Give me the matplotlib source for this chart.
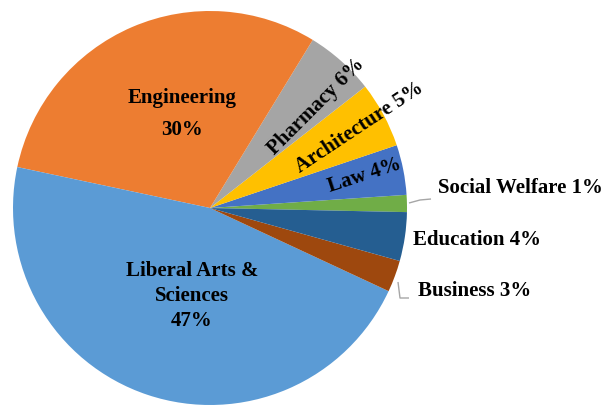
import matplotlib
matplotlib.use("Agg")
import matplotlib.pyplot as plt

# ---- data (counter-clockwise from the right) ----
categories = ["Social Welfare", "Law", "Architecture", "Pharmacy",
              "Engineering", "Liberal Arts &\nSciences", "Business", "Education"]
shares = [1.4, 4.1, 5.4, 5.7, 30.4, 46.4, 2.6, 4.0]
pct_labels = ["1%", "4%", "5%", "6%", "30%", "47%", "3%", "4%"]
colors = ["#70AD47", "#4472C4", "#FFC000", "#A5A5A5",
          "#ED7D31", "#5B9BD5", "#9E480E", "#255E91"]

W, H = 603, 405
fig = plt.figure(figsize=(W / 100, H / 100), dpi=100)
ax = fig.add_axes([0, 0, 1, 1])

def py(y):
    return H - y

cx, cy, R = 210, py(208), 197
ax.pie(shares, colors=colors, startangle=-1.2, counterclock=True,
       center=(cx, cy), radius=R, frame=True,
       wedgeprops=dict(linewidth=0))
ax.set_xlim(0, W)
ax.set_ylim(0, H)
ax.set_aspect("equal")
ax.axis("off")

font = dict(family="Liberation Serif", weight="bold", size=15, color="black")

# label layout: (x_px, y_px, rotation, ha, mode)
layout = {
    0: (438, 188, 0, "left", "line"),
    1: (365, 176, 18, "center", "inline"),
    2: (360, 128, 33.5, "center", "inline"),
    3: (316, 107, 45, "center", "inline"),
    4: (182, 114, 0, "center", "multi"),
    5: (192, 296, 0, "center", "multi"),
    6: (418, 291, 0, "left", "line"),
    7: (413, 240, 0, "left", "line"),
}
spacing = {4: 1.85, 5: 1.35}

for i, (name, pct) in enumerate(zip(categories, pct_labels)):
    x, y, rot, ha, mode = layout[i]
    if mode == "multi":
        txt = f"{name}\n{pct}"
        ax.text(x, py(y), txt, ha="center", va="center", multialignment="center",
                linespacing=spacing[i], **font)
    else:
        txt = f"{name} {pct}"
        ax.text(x, py(y), txt, ha=ha, va="center", rotation=rot,
                rotation_mode="anchor", **font)

# leader lines
line_kw = dict(color="#A6A6A6", lw=1, solid_capstyle="butt")
ax.plot([409, 420, 431], [py(203), py(200), py(199)], **line_kw)
ax.plot([398, 400, 409], [py(282), py(298), py(298)], **line_kw)

fig.savefig("out.png", dpi=100)
